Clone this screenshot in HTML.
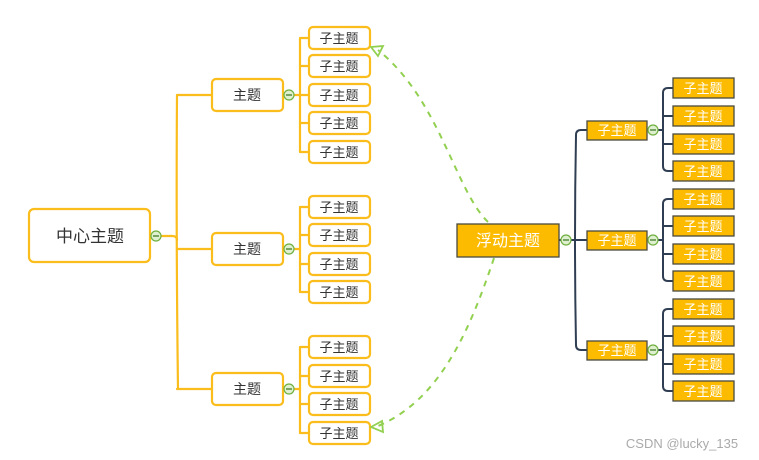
<!DOCTYPE html>
<html><head><meta charset="utf-8"><style>
html,body{margin:0;padding:0;background:#fff;}
svg{display:block;}
text{font-family:"Liberation Sans","Noto Sans CJK SC",sans-serif;}
</style></head><body>
<svg width="759" height="460" viewBox="0 0 759 460" xmlns="http://www.w3.org/2000/svg">
<g fill="none" stroke="#fbbd1c" stroke-width="2.2" stroke-linecap="round">
<!-- main trunk -->
<path d="M150 236 H172 M177 95 Q176 236 178 389 M177 95 H212 M177 249 H212 M177 389 Q177 389 212 389"/>
<path d="M172 236 Q177 236 177 240"/>
<!-- sub brackets -->
<path d="M283 95 H300 M300 38 V152 M300 38 H309 M300 66 H309 M300 95 H309 M300 123 H309 M300 152 H309"/>
<path d="M283 249 H300 M300 207 V292 M300 207 H309 M300 235 H309 M300 264 H309 M300 292 H309"/>
<path d="M283 389 H300 M300 347 V433 M300 347 H309 M300 376 H309 M300 404 H309 M300 433 H309"/>
</g>
<g fill="#fff" stroke="#fbbd1c" stroke-width="2.2">
<rect x="29" y="209" width="121" height="53" rx="5"/>
<rect x="212" y="79" width="71" height="32" rx="4"/>
<rect x="212" y="233" width="71" height="32" rx="4"/>
<rect x="212" y="373" width="71" height="32" rx="4"/>
<g id="s">
<rect x="309" y="27" width="61" height="22" rx="4"/>
<rect x="309" y="55" width="61" height="22" rx="4"/>
<rect x="309" y="84" width="61" height="22" rx="4"/>
<rect x="309" y="112" width="61" height="22" rx="4"/>
<rect x="309" y="141" width="61" height="22" rx="4"/>
<rect x="309" y="196" width="61" height="22" rx="4"/>
<rect x="309" y="224" width="61" height="22" rx="4"/>
<rect x="309" y="253" width="61" height="22" rx="4"/>
<rect x="309" y="281" width="61" height="22" rx="4"/>
<rect x="309" y="336" width="61" height="22" rx="4"/>
<rect x="309" y="365" width="61" height="22" rx="4"/>
<rect x="309" y="393" width="61" height="22" rx="4"/>
<rect x="309" y="422" width="61" height="22" rx="4"/>
</g>
</g>
<g font-size="13" fill="#333" text-anchor="middle">
<text x="90" y="242" font-size="17">中心主题</text>
<text x="247" y="100" font-size="14">主题</text>
<text x="247" y="254" font-size="14">主题</text>
<text x="247" y="394" font-size="14">主题</text>
<text x="339" y="43">子主题</text><text x="339" y="71">子主题</text><text x="339" y="100">子主题</text><text x="339" y="128">子主题</text><text x="339" y="157">子主题</text>
<text x="339" y="212">子主题</text><text x="339" y="240">子主题</text><text x="339" y="269">子主题</text><text x="339" y="297">子主题</text>
<text x="339" y="352">子主题</text><text x="339" y="381">子主题</text><text x="339" y="409">子主题</text><text x="339" y="438">子主题</text>
</g>
<!-- dashed relations -->
<g fill="none" stroke="#92d050" stroke-width="2" stroke-dasharray="6,6">
<path d="M488 222 C455 190 440 100 378 50"/>
<path d="M494 258 C470 330 440 400 378 426"/>
</g>
<g fill="none" stroke="#92d050" stroke-width="1.8">
<path d="M371 47 L383 46 L378 56 Z"/>
<path d="M371 427 L382 421 L383 432 Z"/>
</g>
<!-- right dark connectors -->
<g fill="none" stroke="#2f3e52" stroke-width="2" stroke-linecap="round">
<path d="M559 240 H576 M576 135 Q574 240 576 345 M576 135 Q576 130 581 130 H587 M576 240 H587 M576 345 Q576 350 581 350 H587"/>
<path d="M647 130 H663 M663 93 V166 M663 93 Q663 88 668 88 H673 M663 116 H673 M663 144 H673 M663 166 Q663 171 668 171 H673"/>
<path d="M647 240 H663 M663 204 V276 M663 204 Q663 199 668 199 H673 M663 226 H673 M663 254 H673 M663 276 Q663 281 668 281 H673"/>
<path d="M647 350 H663 M663 314 V386 M663 314 Q663 309 668 309 H673 M663 336 H673 M663 364 H673 M663 386 Q663 391 668 391 H673"/>
</g>
<g fill="#fdbb00" stroke="#4a4a40" stroke-width="1.3">
<rect x="457" y="224" width="102" height="33"/>
<rect x="587" y="121" width="60" height="19"/>
<rect x="587" y="231" width="60" height="19"/>
<rect x="587" y="341" width="60" height="19"/>
<rect x="673" y="78" width="61" height="20"/><rect x="673" y="106" width="61" height="20"/><rect x="673" y="134" width="61" height="20"/><rect x="673" y="161" width="61" height="20"/>
<rect x="673" y="189" width="61" height="20"/><rect x="673" y="216" width="61" height="20"/><rect x="673" y="244" width="61" height="20"/><rect x="673" y="271" width="61" height="20"/>
<rect x="673" y="299" width="61" height="20"/><rect x="673" y="326" width="61" height="20"/><rect x="673" y="354" width="61" height="20"/><rect x="673" y="381" width="61" height="20"/>
</g>
<g fill="#fff" font-size="13" text-anchor="middle">
<text x="508" y="246" font-size="16">浮动主题</text>
<text x="617" y="135">子主题</text><text x="617" y="245">子主题</text><text x="617" y="355">子主题</text>
<text x="703" y="93">子主题</text><text x="703" y="121">子主题</text><text x="703" y="149">子主题</text><text x="703" y="176">子主题</text>
<text x="703" y="204">子主题</text><text x="703" y="231">子主题</text><text x="703" y="259">子主题</text><text x="703" y="286">子主题</text>
<text x="703" y="314">子主题</text><text x="703" y="341">子主题</text><text x="703" y="369">子主题</text><text x="703" y="396">子主题</text>
</g>
<!-- collapse circles -->
<g fill="#dff0d0" stroke="#6fb040" stroke-width="1.2">
<circle cx="156" cy="236" r="5"/><circle cx="289" cy="95" r="5"/><circle cx="289" cy="249" r="5"/><circle cx="289" cy="389" r="5"/>
<circle cx="566" cy="240" r="5"/><circle cx="653" cy="130" r="5"/><circle cx="653" cy="240" r="5"/><circle cx="653" cy="350" r="5"/>
</g>
<g stroke="#3a7a20" stroke-width="1.2">
<path d="M153 236 H159 M286 95 H292 M286 249 H292 M286 389 H292 M563 240 H569 M650 130 H656 M650 240 H656 M650 350 H656"/>
</g>
<text x="682" y="448" font-size="13" fill="#aaa" text-anchor="middle">CSDN @lucky_135</text>
</svg>
</body></html>
